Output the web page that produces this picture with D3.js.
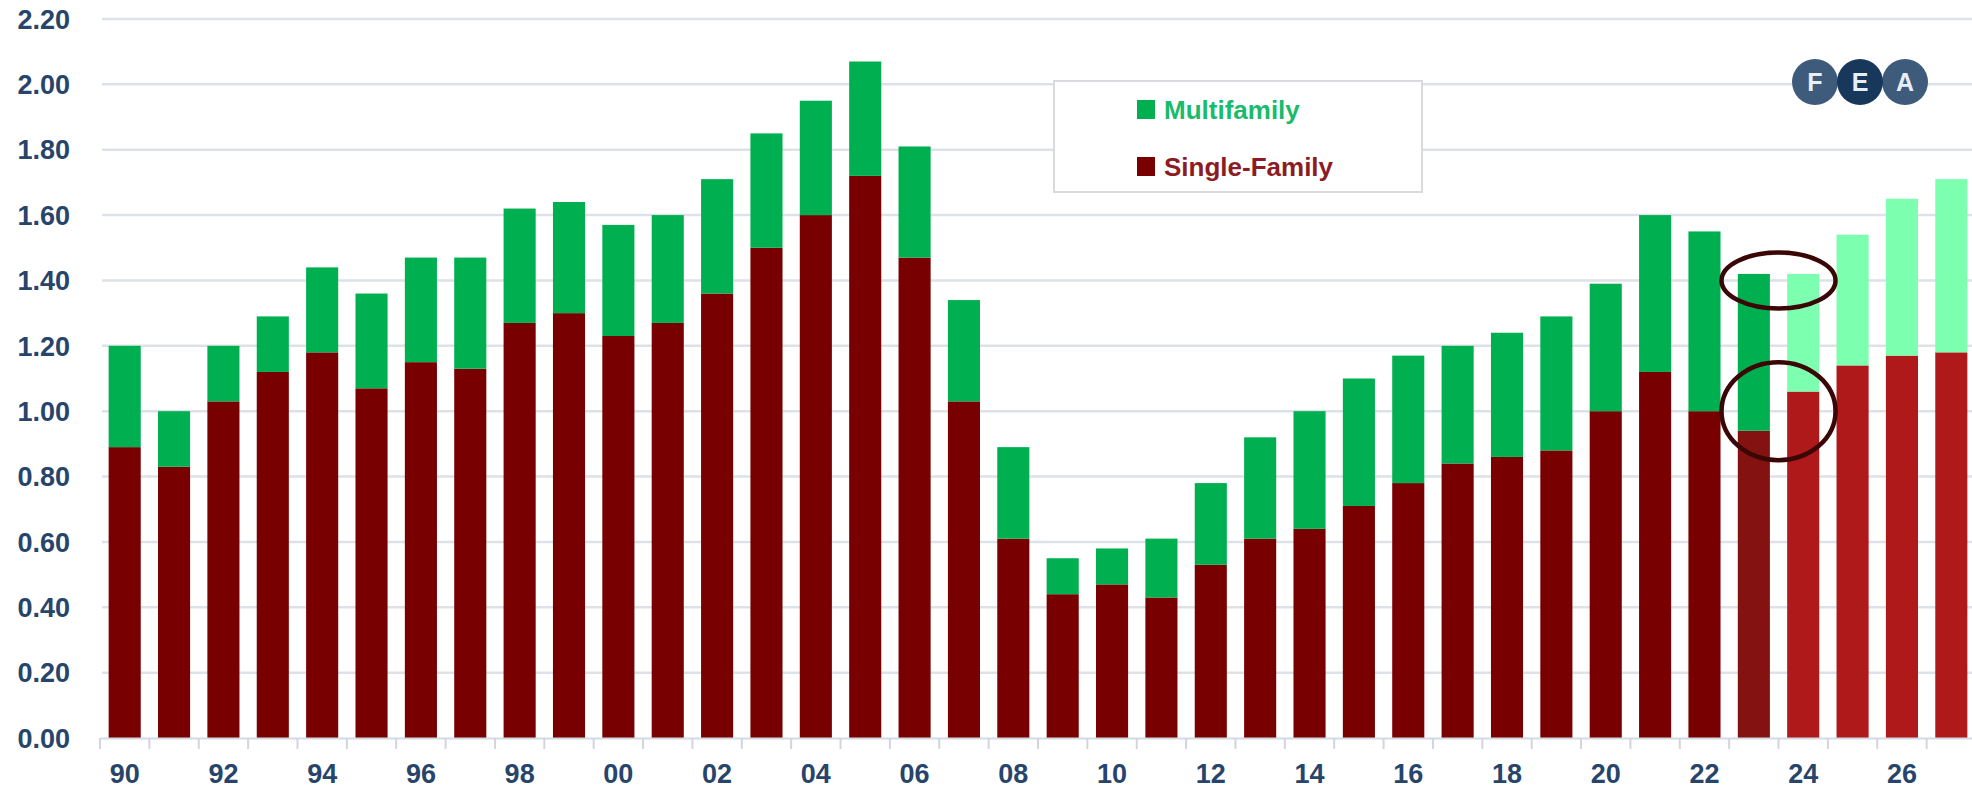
<!DOCTYPE html>
<html>
<head>
<meta charset="utf-8">
<script src="https://cdn.jsdelivr.net/npm/d3@7/dist/d3.min.js"></script>
<style>
    html, body { margin: 0; padding: 0; background: #fff; }
    svg { display: block; }
    text { font-family: "Liberation Sans", Arial, sans-serif; font-weight: bold; }
</style>
</head>
<body>
<svg id="chart" width="1972" height="796"></svg>
<script>
// housing starts, millions of units
var years = ["90", "91", "92", "93", "94", "95", "96", "97", "98", "99",
             "00", "01", "02", "03", "04", "05", "06", "07", "08", "09",
             "10", "11", "12", "13", "14", "15", "16", "17", "18", "19",
             "20", "21", "22", "23", "24", "25", "26", "27"];

var singleFamily = [0.89, 0.83, 1.03, 1.12, 1.18, 1.07, 1.15, 1.13, 1.27, 1.30,
                    1.23, 1.27, 1.36, 1.50, 1.60, 1.72, 1.47, 1.03, 0.61, 0.44,
                    0.47, 0.43, 0.53, 0.61, 0.64, 0.71, 0.78, 0.84, 0.86, 0.88,
                    1.00, 1.12, 1.00, 0.94, 1.06, 1.14, 1.17, 1.18];

var multifamily = [0.31, 0.17, 0.17, 0.17, 0.26, 0.29, 0.32, 0.34, 0.35, 0.34,
                   0.34, 0.33, 0.35, 0.35, 0.35, 0.35, 0.34, 0.31, 0.28, 0.11,
                   0.11, 0.18, 0.25, 0.31, 0.36, 0.39, 0.39, 0.36, 0.38, 0.41,
                   0.39, 0.48, 0.55, 0.48, 0.36, 0.40, 0.48, 0.53];

// h = history, e = estimate, f = forecast
var barStatus = ["h", "h", "h", "h", "h", "h", "h", "h", "h", "h",
                 "h", "h", "h", "h", "h", "h", "h", "h", "h", "h",
                 "h", "h", "h", "h", "h", "h", "h", "h", "h", "h",
                 "h", "h", "h", "e", "f", "f", "f", "f"];

var yTicks = [0, 0.2, 0.4, 0.6, 0.8, 1.0, 1.2, 1.4, 1.6, 1.8, 2.0, 2.2];
var xLabels = ["90", "92", "94", "96", "98", "00", "02", "04", "06", "08",
               "10", "12", "14", "16", "18", "20", "22", "24", "26"];

var legendItems = [["Multifamily", "#00b050", "#19bb6c"], ["Single-Family", "#780000", "#8c1c24"]];
var circledYear = "24", circledValues = [1.40, 1.0];

var sfColor = {"h": "#780000", "e": "#831211", "f": "#b0191a"},
    mfColor = {"h": "#00b050", "e": "#00b050", "f": "#7dffb0"};

function draw_chart() {
    var canvas = d3.select("#chart"),
        margins = {"left": 100, "right": -4, "top": 19, "bottom": 58},
        width = 1972,
        height = 796;

    var x = d3.scaleBand().domain(years)
            .range([margins.left, width - margins.right])
            .paddingInner(0.35).paddingOuter(0.175),
        y = d3.scaleLinear().domain([0, 2.2]).range([height - margins.bottom, margins.top]);

    var gap = x.step() * x.paddingInner();

    // gridlines
    canvas.append("g").selectAll("line").data(yTicks.slice(1)).enter().append("line")
        .attr("x1", margins.left + 2).attr("x2", width)
        .attr("y1", d => y(d)).attr("y2", d => y(d))
        .attr("stroke", "#dde2e9").attr("stroke-width", 2.5);

    // y labels
    canvas.append("g").selectAll("text").data(yTicks).enter().append("text")
        .attr("x", 70).attr("y", d => y(d)).attr("dy", "0.36em")
        .attr("text-anchor", "end").style("font-size", "27px").attr("fill", "#27456b")
        .text(d => d.toFixed(2));

    // logo, sits on the 2.00 gridline
    var logo = canvas.append("g");
    [["F", 1815, "#3e5b7b"], ["A", 1905, "#3e5b7b"], ["E", 1860, "#17375b"]].forEach(l => {
        logo.append("circle").attr("cx", l[1]).attr("cy", 82).attr("r", 23).attr("fill", l[2]);
        logo.append("text").attr("x", l[1]).attr("y", 82).attr("dy", "0.36em")
            .attr("text-anchor", "middle").attr("fill", "#e8eef5")
            .style("font-size", "25px").text(l[0]);
    });

    var rows = years.map((yr, i) => ({"year": yr, "sf": singleFamily[i], "mf": multifamily[i], "status": barStatus[i]}));

    var bars = canvas.append("g");
    bars.selectAll(".sf").data(rows).enter().append("rect").classed("sf", true)
        .attr("x", d => x(d.year)).attr("width", x.bandwidth())
        .attr("y", d => y(d.sf)).attr("height", d => y(0) - y(d.sf))
        .attr("fill", d => sfColor[d.status]);
    bars.selectAll(".mf").data(rows).enter().append("rect").classed("mf", true)
        .attr("x", d => x(d.year)).attr("width", x.bandwidth())
        .attr("y", d => y(d.sf + d.mf)).attr("height", d => y(d.sf) - y(d.sf + d.mf))
        .attr("fill", d => mfColor[d.status]);

    // x axis
    var xaxis = canvas.append("g").attr("transform", "translate(" + [0, y(0)] + ")")
        .call(d3.axisBottom(x).tickValues(xLabels).tickSize(0).tickPadding(26));
    xaxis.select(".domain").attr("stroke", "#d3d9e1").attr("stroke-width", 2);
    xaxis.selectAll("text").style("font-size", "27px").attr("fill", "#27456b")
        .style("font-family", "Liberation Sans, Arial, sans-serif");

    canvas.append("g").selectAll("line").data(years).enter().append("line")
        .attr("x1", d => x(d) - gap / 2).attr("x2", d => x(d) - gap / 2)
        .attr("y1", y(0)).attr("y2", y(0) + 11)
        .attr("stroke", "#cfd6df").attr("stroke-width", 2);

    // legend
    var legend = canvas.append("g");
    legend.append("rect").attr("x", 1054).attr("y", 81).attr("width", 368).attr("height", 111)
        .attr("fill", "#fff").attr("stroke", "#d8dade").attr("stroke-width", 2);
    legendItems.forEach((it, i) => {
        var cy = 110 + i * 57;
        legend.append("rect").attr("x", 1137).attr("y", cy - 10).attr("width", 18).attr("height", 19)
            .attr("fill", it[1]);
        legend.append("text").attr("x", 1164).attr("y", cy).attr("dy", "0.36em")
            .style("font-size", "26px").attr("fill", it[2]).text(it[0]);
    });

    // annotation ellipses around 2023/2024
    var cx = x(circledYear) - gap / 2;
    canvas.append("ellipse").attr("cx", cx).attr("cy", y(circledValues[0]))
        .attr("rx", 57).attr("ry", 28)
        .attr("fill", "none").attr("stroke", "#3b0606").attr("stroke-width", 4.5);
    canvas.append("ellipse").attr("cx", cx).attr("cy", y(circledValues[1]))
        .attr("rx", 57).attr("ry", 49)
        .attr("fill", "none").attr("stroke", "#3b0606").attr("stroke-width", 4.5);
}

draw_chart();
</script>
</body>
</html>
